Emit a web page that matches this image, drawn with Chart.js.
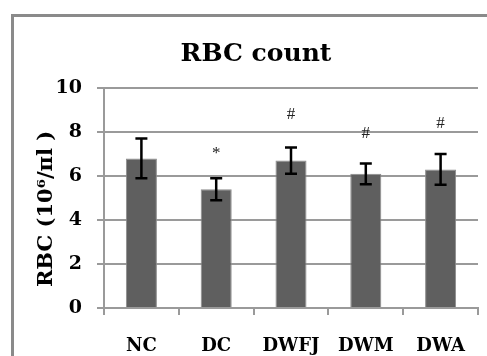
<!DOCTYPE html>
<html><head><meta charset="utf-8">
<script src="https://cdn.jsdelivr.net/npm/chart.js@4/dist/chart.umd.min.js"></script>
<style>
html,body{margin:0;padding:0;background:#fff;overflow:hidden}
#wrap{position:relative;width:487px;height:356px}
#frame{position:absolute;left:11px;top:14px;width:500px;height:400px;border-left:3px solid #8a8a8a;border-top:3px solid #8a8a8a;box-sizing:border-box}
canvas{position:absolute;left:0;top:0}
</style></head><body>
<div id="wrap"><div id="frame"></div><canvas id="c" width="487" height="356"></canvas></div>
<script>
const categories = ['NC', 'DC', 'DWFJ', 'DWM', 'DWA'];
const rbcMeans = [6.8, 5.4, 6.7, 6.1, 6.3];
const rbcErrors = [0.9, 0.5, 0.6, 0.47, 0.7];
const markLabels = ['', '*', '#', '#', '#'];
const markLevels = [null, 7.0, 8.8, 7.95, 8.4];
const yTicks = [0, 2, 4, 6, 8, 10];

const GRID = '#9a9a9a';
const serifBold = (size) => ({family: 'DejaVu Serif', weight: 'bold', size: size});

const extrasPlugin = {
  id: 'extras',
  afterDatasetsDraw(chart) {
    const ctx = chart.ctx;
    const meta = chart.getDatasetMeta(0);
    const y = chart.scales.y;
    ctx.save();
    ctx.strokeStyle = '#000';
    ctx.lineWidth = 2.5;
    meta.data.forEach((bar, i) => {
      const top = y.getPixelForValue(rbcMeans[i] + rbcErrors[i]);
      const bot = y.getPixelForValue(rbcMeans[i] - rbcErrors[i]);
      const cx = bar.x;
      const hw = 6;
      ctx.beginPath();
      ctx.moveTo(cx, top); ctx.lineTo(cx, bot);
      ctx.moveTo(cx - hw, top); ctx.lineTo(cx + hw, top);
      ctx.moveTo(cx - hw, bot); ctx.lineTo(cx + hw, bot);
      ctx.stroke();
    });
    ctx.fillStyle = '#222';
    ctx.font = '17px "Liberation Serif"';
    ctx.textAlign = 'center';
    ctx.textBaseline = 'middle';
    meta.data.forEach((bar, i) => {
      if (markLevels[i] == null) return;
      ctx.fillText(markLabels[i], bar.x, y.getPixelForValue(markLevels[i]));
    });
    ctx.restore();
  }
};

new Chart(document.getElementById('c'), {
  type: 'bar',
  data: {
    labels: categories,
    datasets: [{
      data: rbcMeans,
      backgroundColor: '#5f5f5f',
      borderColor: '#8c8c8c',
      borderWidth: 1,
      categoryPercentage: 0.415,
      barPercentage: 1
    }]
  },
  options: {
    responsive: false,
    devicePixelRatio: 1,
    animation: false,
    layout: {padding: {left: 34, right: 9, top: 0, bottom: 0}},
    plugins: {
      legend: {display: false},
      tooltip: {enabled: false},
      title: {
        display: true,
        text: 'RBC count',
        color: '#000',
        font: serifBold(25),
        padding: {top: 39, bottom: 19}
      }
    },
    scales: {
      x: {
        grid: {display: true, drawOnChartArea: false, drawTicks: true, tickLength: 7, color: GRID, lineWidth: 2, offset: true},
        border: {display: true, color: GRID, width: 2},
        ticks: {color: '#000', font: serifBold(18), padding: 21, maxRotation: 0, autoSkip: false},
        afterFit: (s) => { s.height = 48; }
      },
      y: {
        min: 0, max: 10,
        afterBuildTicks: (s) => { s.ticks = yTicks.map(v => ({value: v})); },
        grid: {color: GRID, lineWidth: 2, tickLength: 7},
        border: {display: true, color: GRID, width: 2},
        ticks: {color: '#000', font: serifBold(19), padding: 15},
        title: {
          display: true,
          text: 'RBC (10\u2076/\u03C0l )   ',
          color: '#000',
          font: serifBold(21),
          padding: {top: 0, bottom: 0}
        },
        afterFit: (s) => { s.width = 70; }
      }
    }
  },
  plugins: [extrasPlugin]
});
</script>
</body></html>
